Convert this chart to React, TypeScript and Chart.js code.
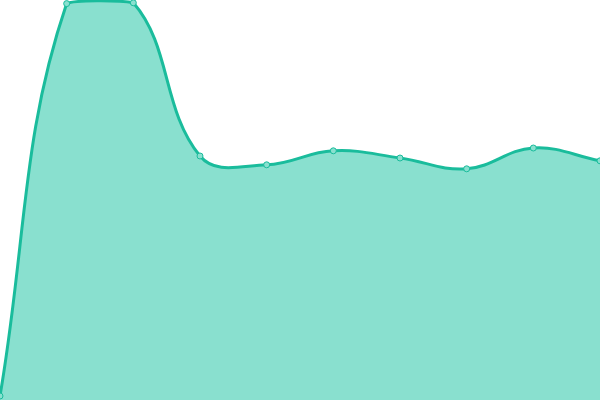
import React, { useEffect, useRef } from "react";
import { Chart, registerables } from "chart.js";

Chart.register(...registerables);

const labels = ["1", "2", "3", "4", "5", "6", "7", "8", "9", "10"];
const values = [1, 99.1, 99.3, 61, 58.8, 62.3, 60.5, 57.8, 63, 59.8];
const yMin = 0;
const yMax = 100;

export default function App() {
  const ref = useRef<HTMLCanvasElement | null>(null);
  useEffect(() => {
    document.body.style.margin = "0";
    const chart = new Chart(ref.current as HTMLCanvasElement, {
      type: "line",
      data: {
        labels,
        datasets: [
          {
            data: values,
            borderColor: "#1abc9c",
            borderWidth: 3,
            backgroundColor: "#89e0cf",
            fill: true,
            tension: 0.4,
            pointRadius: 3,
            pointBorderWidth: 1,
            pointBackgroundColor: "#89e0cf",
            pointBorderColor: "#1abc9c",
          },
        ],
      },
      options: {
        animation: false,
        responsive: true,
        maintainAspectRatio: false,
        layout: { padding: 0, autoPadding: false },
        plugins: { legend: { display: false }, tooltip: { enabled: false } },
        scales: {
          x: { display: false, offset: false },
          y: { display: false, min: yMin, max: yMax },
        },
      },
    });
    return () => chart.destroy();
  }, []);
  return (
    <div style={{ position: "fixed", left: 0, top: 0, width: 600, height: 400 }}>
      <canvas ref={ref} />
    </div>
  );
}
